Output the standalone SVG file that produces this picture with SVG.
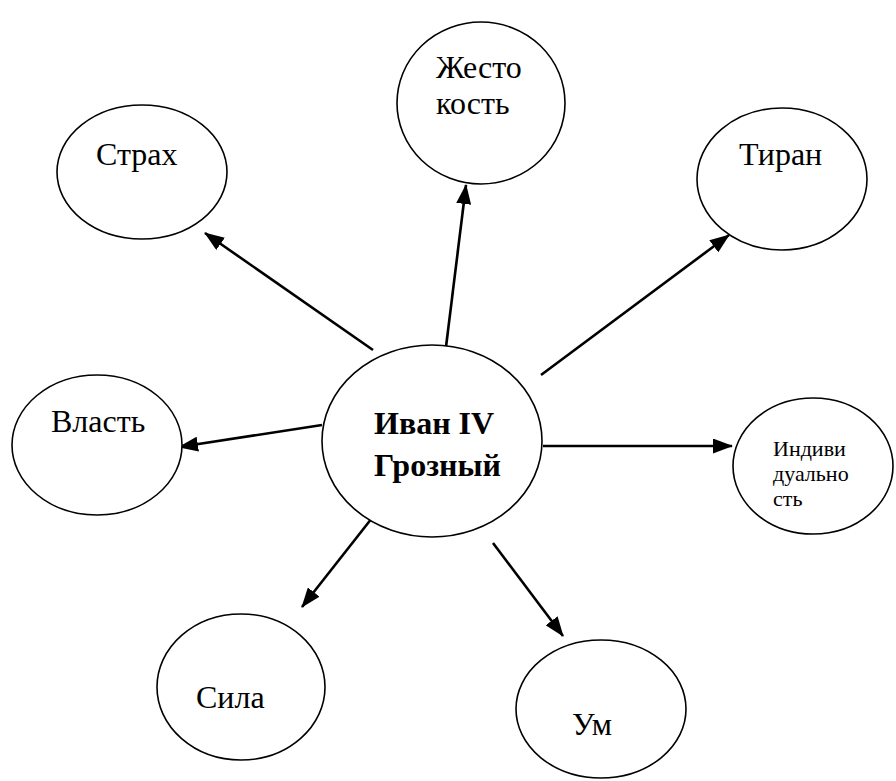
<svg xmlns="http://www.w3.org/2000/svg" width="896" height="781" viewBox="0 0 896 781">
<style>
.n{fill:#fff;stroke:#000;stroke-width:1.6}
text{font-family:'Liberation Serif','Times New Roman',serif;font-size:32px;fill:#000}
.b{font-weight:bold}
.s{font-size:22px}
.c line{stroke:#000;stroke-width:2.6;marker-end:url(#ah)}
</style>
<defs>
<marker id="ah" viewBox="0 0 20 15" refX="19" refY="7.5" markerWidth="20" markerHeight="15" orient="auto" markerUnits="userSpaceOnUse">
<path d="M0,0 L20,7.5 L0,15 z" fill="#000"/>
</marker>
</defs>
<rect width="896" height="781" fill="#fff"/>
<g id="connectors" class="c">
<line x1="373" y1="350" x2="205" y2="233"/>
<line x1="445" y1="355" x2="466" y2="185"/>
<line x1="541" y1="375" x2="729" y2="235"/>
<line x1="322" y1="425" x2="179" y2="447"/>
<line x1="543" y1="446" x2="732" y2="446"/>
<line x1="372" y1="518" x2="302" y2="607"/>
<line x1="493" y1="543" x2="563" y2="636"/>
</g>
<g id="center">
<ellipse class="n" cx="432" cy="441" rx="110" ry="96"/>
<text class="b" x="374" y="434">Иван IV</text>
<text class="b" x="374" y="476">Грозный</text>
</g>
<g id="zhestokost">
<ellipse class="n" cx="481" cy="103" rx="84" ry="81"/>
<text x="436" y="78">Жесто</text>
<text x="436" y="114">кость</text>
</g>
<g id="strakh">
<ellipse class="n" cx="142" cy="172" rx="85" ry="67"/>
<text x="96" y="165">Страх</text>
</g>
<g id="tiran">
<ellipse class="n" cx="782" cy="179" rx="85" ry="71"/>
<text x="739" y="165">Тиран</text>
</g>
<g id="vlast">
<ellipse class="n" cx="97" cy="445" rx="85" ry="70"/>
<text x="51" y="432">Власть</text>
</g>
<g id="individualnost">
<ellipse class="n" cx="813" cy="466" rx="80" ry="68"/>
<text class="s" x="773" y="456">Индиви</text>
<text class="s" x="773" y="481">дуально</text>
<text class="s" x="773" y="506">сть</text>
</g>
<g id="sila">
<ellipse class="n" cx="241" cy="687" rx="84" ry="73"/>
<text x="196" y="708">Сила</text>
</g>
<g id="um">
<ellipse class="n" cx="601" cy="709" rx="85" ry="69"/>
<text x="572" y="735">Ум</text>
</g>
</svg>
